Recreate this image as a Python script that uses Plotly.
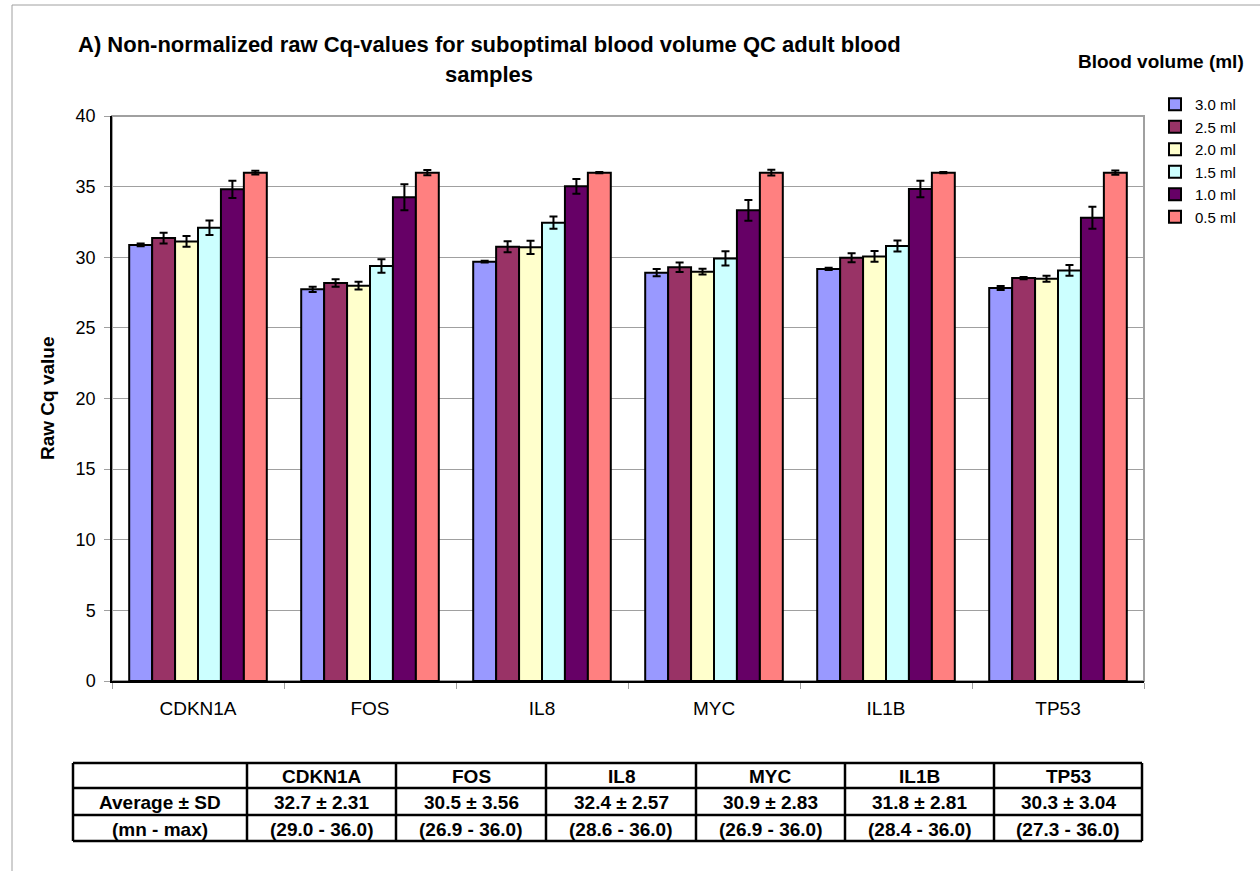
import plotly.graph_objects as go

genes = ["CDKN1A", "FOS", "IL8", "MYC", "IL1B", "TP53"]
volumes = ["3.0 ml", "2.5 ml", "2.0 ml", "1.5 ml", "1.0 ml", "0.5 ml"]
colors = ["#9999FF", "#993366", "#FFFFCC", "#CCFFFF", "#660066", "#FF8080"]

cq_3_0 = [30.87, 27.73, 29.69, 28.91, 29.17, 27.82]
cq_2_5 = [31.36, 28.18, 30.75, 29.29, 29.97, 28.53]
cq_2_0 = [31.12, 27.99, 30.70, 28.98, 30.06, 28.48]
cq_1_5 = [32.09, 29.38, 32.45, 29.92, 30.80, 29.07]
cq_1_0 = [34.81, 34.24, 35.02, 33.32, 34.83, 32.80]
cq_0_5 = [35.99, 35.99, 35.99, 35.99, 35.99, 35.99]

sd_3_0 = [0.10, 0.19, 0.07, 0.25, 0.08, 0.14]
sd_2_5 = [0.38, 0.26, 0.39, 0.34, 0.32, 0.08]
sd_2_0 = [0.38, 0.28, 0.47, 0.20, 0.38, 0.21]
sd_1_5 = [0.51, 0.47, 0.44, 0.50, 0.39, 0.38]
sd_1_0 = [0.61, 0.92, 0.52, 0.74, 0.59, 0.78]
sd_0_5 = [0.14, 0.19, 0.05, 0.21, 0.05, 0.15]

series_values = [cq_3_0, cq_2_5, cq_2_0, cq_1_5, cq_1_0, cq_0_5]
series_errors = [sd_3_0, sd_2_5, sd_2_0, sd_1_5, sd_1_0, sd_0_5]

table_row_labels = ["Average ± SD", "(mn - max)"]
table_avg = ["32.7 ± 2.31", "30.5 ± 3.56", "32.4 ± 2.57", "30.9 ± 2.83", "31.8 ± 2.81", "30.3 ± 3.04"]
table_range = ["(29.0 - 36.0)", "(26.9 - 36.0)", "(28.6 - 36.0)", "(26.9 - 36.0)", "(28.4 - 36.0)", "(27.3 - 36.0)"]

y_ticks = [0, 5, 10, 15, 20, 25, 30, 35, 40]

FONT = "Liberation Sans, Arial, sans-serif"

# pixel layout helpers
W, H = 1260, 871
ML, MR, MT, MB = 70, 116, 116, 30
PW = W - ML - MR
PH = H - MT - MB


def px_x(px):
    return (px - ML) / PW


def px_y(py):
    return (H - MB - py) / PH


def b(s):
    return "<b>" + s + "</b>"


fig = go.Figure()

for name, vals, errs, col in zip(volumes, series_values, series_errors, colors):
    fig.add_trace(go.Bar(
        x=genes, y=vals, name=name,
        marker=dict(color=col, line=dict(color="black", width=2)),
        error_y=dict(type="data", array=errs, visible=True,
                     color="black", thickness=2, width=4),
    ))

# ---- summary table drawn with shapes + annotations ----
tbl_cols_px = [73, 247, 396, 546, 696, 845, 994, 1142]
tbl_rows_px = [763, 788, 815, 841]
shapes = []
annotations = []
line_style = dict(color="black", width=2.5)
for cx in tbl_cols_px:
    shapes.append(dict(type="line", xref="paper", yref="paper",
                       x0=px_x(cx), x1=px_x(cx), y0=px_y(tbl_rows_px[0]), y1=px_y(tbl_rows_px[-1]),
                       line=line_style))
for ry in tbl_rows_px:
    shapes.append(dict(type="line", xref="paper", yref="paper",
                       x0=px_x(tbl_cols_px[0]), x1=px_x(tbl_cols_px[-1]), y0=px_y(ry), y1=px_y(ry),
                       line=line_style))

table_grid = [[""] + genes,
              [table_row_labels[0]] + table_avg,
              [table_row_labels[1]] + table_range]
for ri, row in enumerate(table_grid):
    yc = (tbl_rows_px[ri] + tbl_rows_px[ri + 1]) / 2
    for ci, txt in enumerate(row):
        if not txt:
            continue
        xc = (tbl_cols_px[ci] + tbl_cols_px[ci + 1]) / 2
        annotations.append(dict(text=b(txt), xref="paper", yref="paper",
                                x=px_x(xc), y=px_y(yc + 1), xanchor="center", yanchor="middle",
                                showarrow=False, font=dict(size=19, family=FONT, color="black")))

shapes += [
    dict(type="rect", xref="x domain", yref="y domain", x0=0, x1=1, y0=0, y1=1,
         line=dict(color="#A0A0A0", width=2), layer="below"),
    dict(type="line", xref="paper", yref="paper", x0=px_x(12), x1=px_x(1260),
         y0=px_y(5), y1=px_y(5), line=dict(color="#A0A0A0", width=1)),
    dict(type="line", xref="paper", yref="paper", x0=px_x(12), x1=px_x(12),
         y0=px_y(5), y1=px_y(871), line=dict(color="#A0A0A0", width=1)),
]

annotations += [
    dict(text=b("A) Non-normalized raw Cq-values for suboptimal blood volume QC adult blood"),
         xref="paper", yref="paper", x=px_x(489), y=px_y(45), xanchor="center", yanchor="middle",
         showarrow=False, font=dict(size=22, family=FONT, color="black")),
    dict(text=b("samples"),
         xref="paper", yref="paper", x=px_x(489), y=px_y(74), xanchor="center", yanchor="middle",
         showarrow=False, font=dict(size=22, family=FONT, color="black")),
    dict(text=b("Blood volume (ml)"), xref="paper", yref="paper", x=px_x(1246), y=px_y(62),
         xanchor="right", yanchor="middle", showarrow=False,
         font=dict(size=19, family=FONT, color="black")),
    dict(text=b("Raw Cq value"), xref="paper", yref="paper", x=px_x(47), y=px_y(398),
         xanchor="center", yanchor="middle", textangle=-90, showarrow=False,
         font=dict(size=19, family=FONT, color="black")),
]

fig.update_layout(
    width=W, height=H,
    margin=dict(l=ML, r=MR, t=MT, b=MB),
    paper_bgcolor="white", plot_bgcolor="white",
    font=dict(family=FONT, color="black"),
    barmode="group", bargap=0.2, bargroupgap=0,
    showlegend=True,
    legend=dict(x=px_x(1155), y=px_y(88), xanchor="left", yanchor="top",
                font=dict(size=15, family=FONT), bgcolor="rgba(0,0,0,0)",
                tracegroupgap=0, itemwidth=30),
    xaxis=dict(domain=[px_x(112), 1], showline=True, linecolor="black", linewidth=1.5,
               ticks="outside", tickson="boundaries", ticklen=6, tickcolor="#A0A0A0",
               ticklabelstandoff=9,
               tickfont=dict(size=19, family=FONT), showgrid=False, zeroline=False),
    yaxis=dict(domain=[px_y(681), 1], range=[0, 40], tickvals=y_ticks,
               showline=True, linecolor="black", linewidth=1.5,
               ticks="outside", ticklen=6, tickcolor="#A0A0A0",
               ticklabelstandoff=5,
               tickfont=dict(size=18, family=FONT),
               showgrid=True, gridcolor="#A0A0A0", gridwidth=1, zeroline=False),
    shapes=shapes,
    annotations=annotations,
)

fig.write_html("out.html",
               config={"displayModeBar": False},
               post_script="document.body.style.margin='0';document.body.style.overflow='hidden';")
